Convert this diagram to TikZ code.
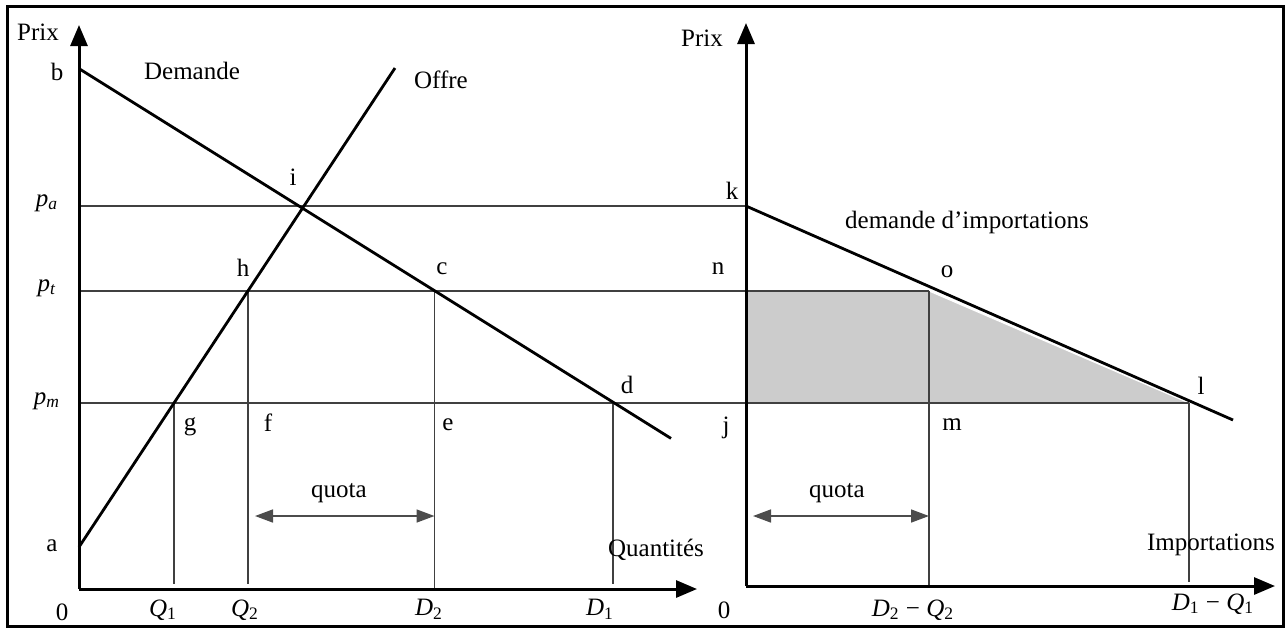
\documentclass[tikz,border=0pt]{standalone}
\usepackage{fontspec}
\setmainfont{Liberation Serif}
\usetikzlibrary{arrows.meta}
\newcommand{\ssb}[2]{\textit{#1}\textsubscript{#2}}
\begin{document}
\begin{tikzpicture}[x=0.5pt,y=-0.5pt,
  frameln/.style={line width=1.5pt},
  axisln/.style={line width=1.5pt,-{Triangle[length=10.5pt,width=8.5pt]}},
  curveln/.style={line width=1.4pt},
  thinln/.style={line width=0.55pt,black!75},
  quotaln/.style={line width=0.8pt,black!70,{Triangle[length=9pt,width=6.5pt]}-{Triangle[length=9pt,width=6.5pt]}},
  lbl/.style={inner sep=0pt,font=\fontsize{12.5}{14}\selectfont},
  shade/.style={fill=black!20}]
\useasboundingbox (0,0) rectangle (1288,629);
\draw[frameln] (7,6) rectangle (1283,626);

% ---------- left panel coordinates
\coordinate (O1) at (79,589);
\coordinate (Y1) at (79,25);
\coordinate (X1) at (697,589);
\coordinate (b) at (79,68.6);
\coordinate (dend) at (671,438.4);
\coordinate (a) at (79,547);
\coordinate (otop) at (395,68);
\coordinate (pa0) at (79,206);
\coordinate (pt0) at (79,291);
\coordinate (pm0) at (79,403);
\coordinate (g) at (174,403);
\coordinate (h) at (248,291);
\coordinate (c) at (434.5,291);
\coordinate (d) at (613,403);
\coordinate (gB) at (174,584);
\coordinate (hB) at (248,584);
\coordinate (cB) at (434.5,589);
\coordinate (dB) at (613,584);
\coordinate (qL1) at (255,516);
\coordinate (qR1) at (434.5,516);

% ---------- right panel coordinates
\coordinate (O2) at (746,586);
\coordinate (Y2) at (746,23);
\coordinate (X2) at (1275,586);
\coordinate (k) at (746,206);
\coordinate (kend) at (1233,420);
\coordinate (n) at (746,291);
\coordinate (o) at (929,291);
\coordinate (j) at (746,403);
\coordinate (l) at (1189,403);
\coordinate (mB) at (929,586);
\coordinate (lB) at (1189,582);
\coordinate (qL2) at (753,516);
\coordinate (qR2) at (929,516);

% shaded area
\fill[shade] (n) -- (o) -- (l) -- (j) -- cycle;
\draw[white,line width=0.5pt] (o) -- (l);

% thin guide lines
\draw[thinln] (pa0) -- (k);
\draw[thinln] (pt0) -- (o);
\draw[thinln] (pm0) -- (l);
\draw[thinln] (g) -- (gB);
\draw[thinln] (h) -- (hB);
\draw[thinln] (c) -- (cB);
\draw[thinln] (d) -- (dB);
\draw[thinln] (o) -- (mB);
\draw[thinln] (l) -- (lB);

% quota arrows
\draw[quotaln] (qL1) -- (qR1);
\draw[quotaln] (qL2) -- (qR2);

% curves
\draw[curveln] (b) -- (dend);
\draw[curveln] (a) -- (otop);
\draw[curveln] (k) -- (kend);

% axes
\draw[axisln] (O1) -- (Y1);
\draw[axisln] (O1) -- (X1);
\draw[axisln] (O2) -- (Y2);
\draw[axisln] (O2) -- (X2);

% ---------- labels left
\node[lbl] (tprix1) at (38,32) {Prix};
\node[lbl] (tb) at (57,72) {b};
\node[lbl] (tpa) at (47,203) {\ssb{p}{\textit{a}}};
\node[lbl] (tpt) at (47,288) {\ssb{p}{\textit{t}}};
\node[lbl] (tpm) at (47,401) {\ssb{p}{\textit{m}}};
\node[lbl] (ta) at (52,546) {a};
\node[lbl] (t01) at (62,612) {0};
\node[lbl] (tdem) at (192,71) {Demande};
\node[lbl] (toff) at (441,80) {Offre};
\node[lbl] (ti) at (293,177) {i};
\node[lbl] (th) at (243,268) {h};
\node[lbl] (tc) at (442,269) {c};
\node[lbl] (td) at (627,385) {d};
\node[lbl] (tg) at (190,427) {g};
\node[lbl] (tf) at (268,423) {f};
\node[lbl] (te) at (448,425) {e};
\node[lbl] (tq1) at (339,493) {quota};
\node[lbl] (tquant) at (656,550) {Quantités};
\node[lbl] (tQ1) at (163,610) {\ssb{Q}{1}};
\node[lbl] (tQ2) at (245,610) {\ssb{Q}{2}};
\node[lbl] (tD2) at (429,609) {\ssb{D}{2}};
\node[lbl] (tD1) at (600,609) {\ssb{D}{1}};

% ---------- labels right
\node[lbl] (tprix2) at (702,38) {Prix};
\node[lbl] (tk) at (732,191) {k};
\node[lbl] (tn) at (718,269) {n};
\node[lbl] (to) at (947,272) {o};
\node[lbl] (tdi) at (967,222) {demande d’importations};
\node[lbl] (tj) at (726,428) {j};
\node[lbl] (tm) at (952,425) {m};
\node[lbl] (tl) at (1201,386) {l};
\node[lbl] (tq2) at (837,493) {quota};
\node[lbl] (timp) at (1211,545) {Importations};
\node[lbl] (t02) at (724,610) {0};
\node[lbl] (tDQ2) at (913,610) {\ssb{D}{2} − \ssb{Q}{2}};
\node[lbl] (tDQ1) at (1213,604) {\ssb{D}{1} − \ssb{Q}{1}};
\end{tikzpicture}
\end{document}
